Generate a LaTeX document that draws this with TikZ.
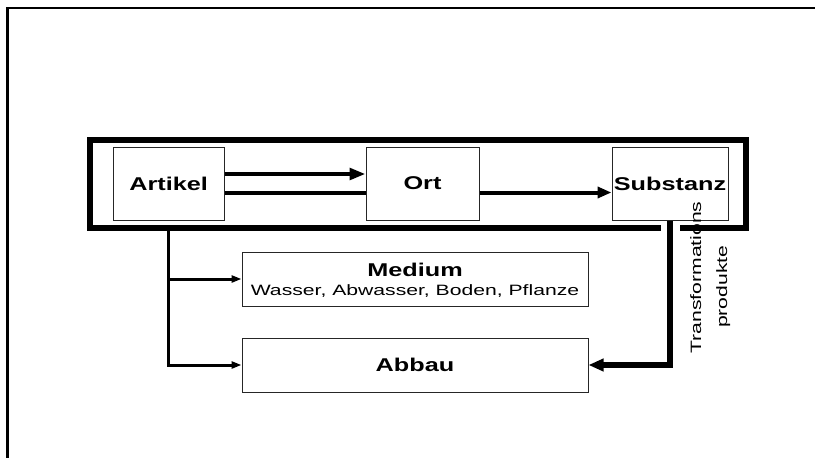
\documentclass[tikz,border=0pt]{standalone}
\usepackage{fontspec}
\setmainfont{Liberation Sans}
\newfontfamily\boldf[FakeStretch=1.365]{Liberation Sans}
\newfontfamily\regf[FakeStretch=1.41]{Liberation Sans}
\newcommand\btext{\boldf\bfseries\fontsize{18.5}{22}\selectfont}
\newcommand\rtext{\regf\fontsize{15}{18}\selectfont}
\usetikzlibrary{arrows.meta}
\tikzset{
  box/.style={draw=black!85, line width=1pt, inner sep=0pt, font=\btext},
  flow/.style={draw=black, line width=4pt},
  branch/.style={draw=black, line width=3pt, -{Triangle[length=10pt,width=7pt]}},
  frameline/.style={draw=black, line width=6pt, line join=miter},
  pageline/.style={draw=black, line width=2.4pt},
  label/.style={font=\rtext, inner sep=0pt}
}
\begin{document}
\begin{tikzpicture}[x=1pt,y=-1pt]
\useasboundingbox (0,0) rectangle (815,458);
% page frame
\draw[pageline] (7.3,458) -- (7.3,8) -- (815,8);
% nodes
\node[box, minimum width=110.7pt, minimum height=72.7pt] (artikel) at (168.65,183.65) {Artikel};
\node[box, minimum width=113pt, minimum height=73pt] (ort) at (422.5,183.5) {Ort};
\node[box, minimum width=116pt, minimum height=73pt] (substanz) at (670,183.5) {Substanz};
\node[box, minimum width=346pt, minimum height=54pt] (medium) at (415,279) {};
\node[box, minimum width=346pt, minimum height=54pt] (abbau) at (415,365) {Abbau};
\node[anchor=base, font=\btext, inner sep=0pt] (mediumtitle) at (415,276.7) {Medium};
\node[anchor=base, label] (mediumsub) at (415,295.7) {Wasser, Abwasser, Boden, Pflanze};
% thick group frame with gap
\draw[frameline] (660.7,227.5) -- (90.3,227.5) -- (90.3,140.3) -- (745.5,140.3) -- (745.5,227.5) -- (680,227.5);
% connectors
\draw[flow, -{Triangle[length=16pt,width=11.5pt]}] (artikel.east |- 0,174) -- (ort.west |- 0,174);
\draw[flow] (artikel.east |- 0,193) -- (ort.west |- 0,193);
\draw[flow, -{Triangle[length=14pt,width=11pt]}] (ort.east |- 0,192.5) -- (substanz.west |- 0,192.5);
\coordinate (tap) at (168.3,227.5);
\draw[branch] (tap) |- (abbau.west);
\draw[branch] (tap |- medium.west) -- (medium.west);
\draw[draw=black, line width=5.5pt, line join=miter, -{Triangle[length=15pt,width=12pt]}] (substanz.south) |- (abbau.east);
% rotated label
\node[rotate=90, anchor=base, label] (trans1) at (701,277.5) {Transformations};
\node[rotate=90, anchor=base, label] (trans2) at (727,286.7) {produkte};
\end{tikzpicture}
\end{document}
